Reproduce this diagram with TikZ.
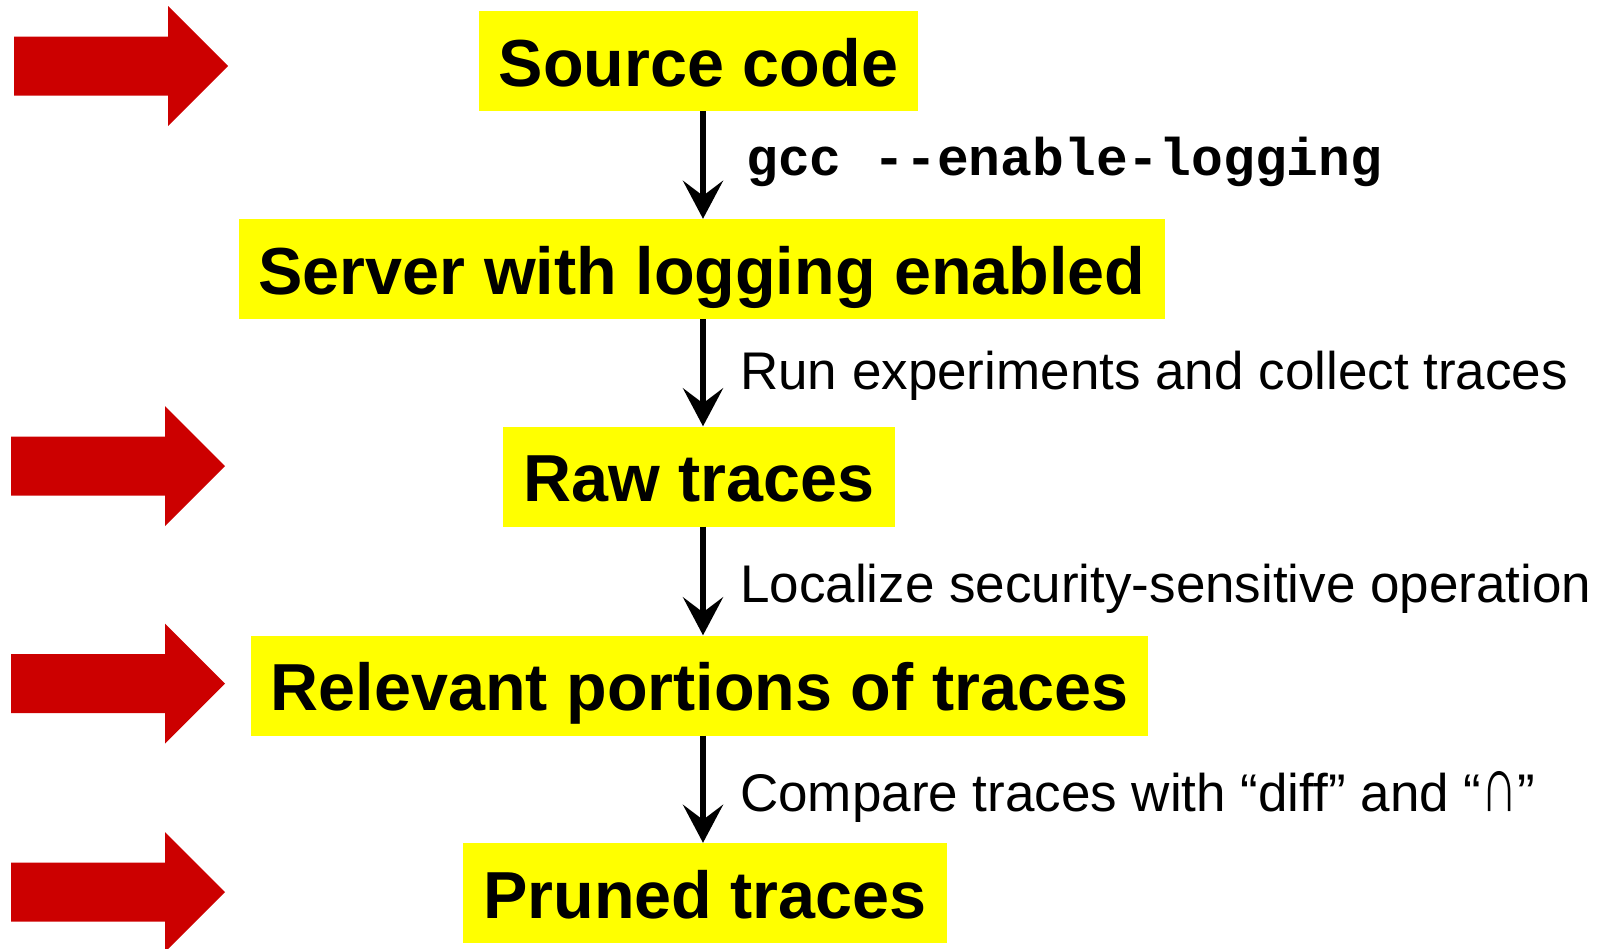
\documentclass[tikz,border=0pt]{standalone}
\usepackage{fontspec}
\usepackage{graphicx}
\setmainfont{Liberation Sans}
\setmonofont{Liberation Mono}
\usetikzlibrary{arrows.meta}
\definecolor{boxyellow}{RGB}{255,255,0}
\definecolor{bigred}{RGB}{204,0,0}
\begin{document}
\begin{tikzpicture}[x=1pt,y=-1pt,
  stepbox/.style={fill=boxyellow, inner xsep=20pt, inner ysep=0pt, minimum height=100pt,
    text height=50pt, text depth=0pt, font=\fontsize{66.5}{70}\selectfont\bfseries},
  flow/.style={line width=6.5pt, -{Stealth[length=38pt,width=40pt,inset=15pt]}},
  lab/.style={anchor=base west, inner sep=0pt, font=\fontsize{53}{60}\selectfont},
  code/.style={anchor=base west, inner sep=0pt, font=\fontsize{53}{60}\selectfont\ttfamily\bfseries},
  redarrow/.pic={\fill[bigred] (-214,-29.5) -- (-60,-29.5) -- (-60,-60) -- (0,0) -- (-60,60) -- (-60,29.5) -- (-214,29.5) -- cycle;}]
\useasboundingbox (0,0) rectangle (1613,948);

\pic at (228,66) {redarrow};
\pic at (225,466) {redarrow};
\pic at (225,683.5) {redarrow};
\pic at (225,892) {redarrow};

\node[stepbox] (src) at (698.5,61) {Source code};
\node[stepbox] (srv) at (702,269) {Server with logging enabled};
\node[stepbox] (raw) at (699,476.5) {Raw traces};
\node[stepbox] (rel) at (699.5,685.5) {Relevant portions of traces};
\node[stepbox] (prn) at (705,893) {Pruned traces};

\coordinate (ax) at (703,0);
\draw[flow] (src.south -| ax) -- (srv.north -| ax);
\draw[flow] (srv.south -| ax) -- (raw.north -| ax);
\draw[flow] (raw.south -| ax) -- (rel.north -| ax);
\draw[flow] (rel.south -| ax) -- (prn.north -| ax);

\node[code] (l1) at (746,175) {gcc -{}-enable-logging};
\node[lab] (l2) at (740,389) {Run experiments and collect traces};
\node[lab] (l3) at (740,602) {Localize security-sensitive operation};
\node[lab] (l4) at (740,811) {Compare traces with “diff” and “\scalebox{0.95}[1.5]{∩}”};
\end{tikzpicture}
\end{document}
